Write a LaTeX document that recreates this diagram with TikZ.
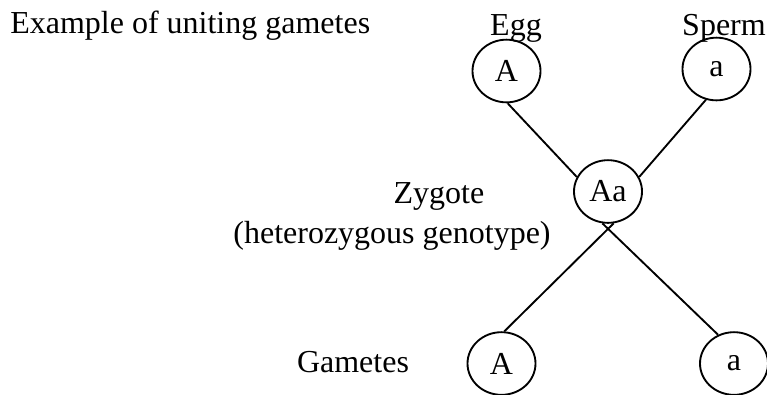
\documentclass[tikz,border=0pt]{standalone}
\usepackage{fontspec}
\setmainfont{Liberation Serif}
\usepackage{tikz}
\usetikzlibrary{positioning,calc,shapes.geometric}

\tikzset{
  allele/.style={draw, ellipse, minimum width=51pt, minimum height=47pt, inner sep=0pt, line width=1.4pt},
  lbl/.style={anchor=base, inner sep=0pt},
  link/.style={line width=1.4pt},
}

\begin{document}
\begin{tikzpicture}[x=0.75pt, y=-0.75pt, font=\fontsize{24}{28}\selectfont]
    \useasboundingbox (0,0) rectangle (767,394);

    % parents
    \node[allele] (egg) at (506.5,71) {A};
    \node[allele] (sperm) at (716.5,69) {a};
    \node[lbl] (l1) at ($(egg)+(9.5,-36)$) {Egg};
    \node[lbl] (l2) at ($(sperm)+(7.5,-34)$) {Sperm};

    % zygote
    \node[allele] (zyg) at (608,191.5) {Aa};
    \node[lbl] (l3) at ($(zyg)+(-169,11.5)$) {Zygote};
    \node[lbl] (l4) at ($(zyg)+(-216,51.5)$) {(heterozygous genotype)};

    % gametes
    \node[allele] (g1) at (501.5,363.5) {A};
    \node[allele] (g2) at (734,363.5) {a};
    \node[lbl] (l5) at ($(g1)+(-148.5,8.5)$) {Gametes};

    \node[lbl, anchor=base west] (title) at (10,33) {Example of uniting gametes};

    \draw[link] (egg.-88) -- (zyg.155);
    \draw[link] (sperm.-109) -- (zyg.25);
    \draw[link] (zyg.-80) -- (g1.85);
    \draw[link] (zyg.-100) -- (g2.119);
\end{tikzpicture}
\end{document}
